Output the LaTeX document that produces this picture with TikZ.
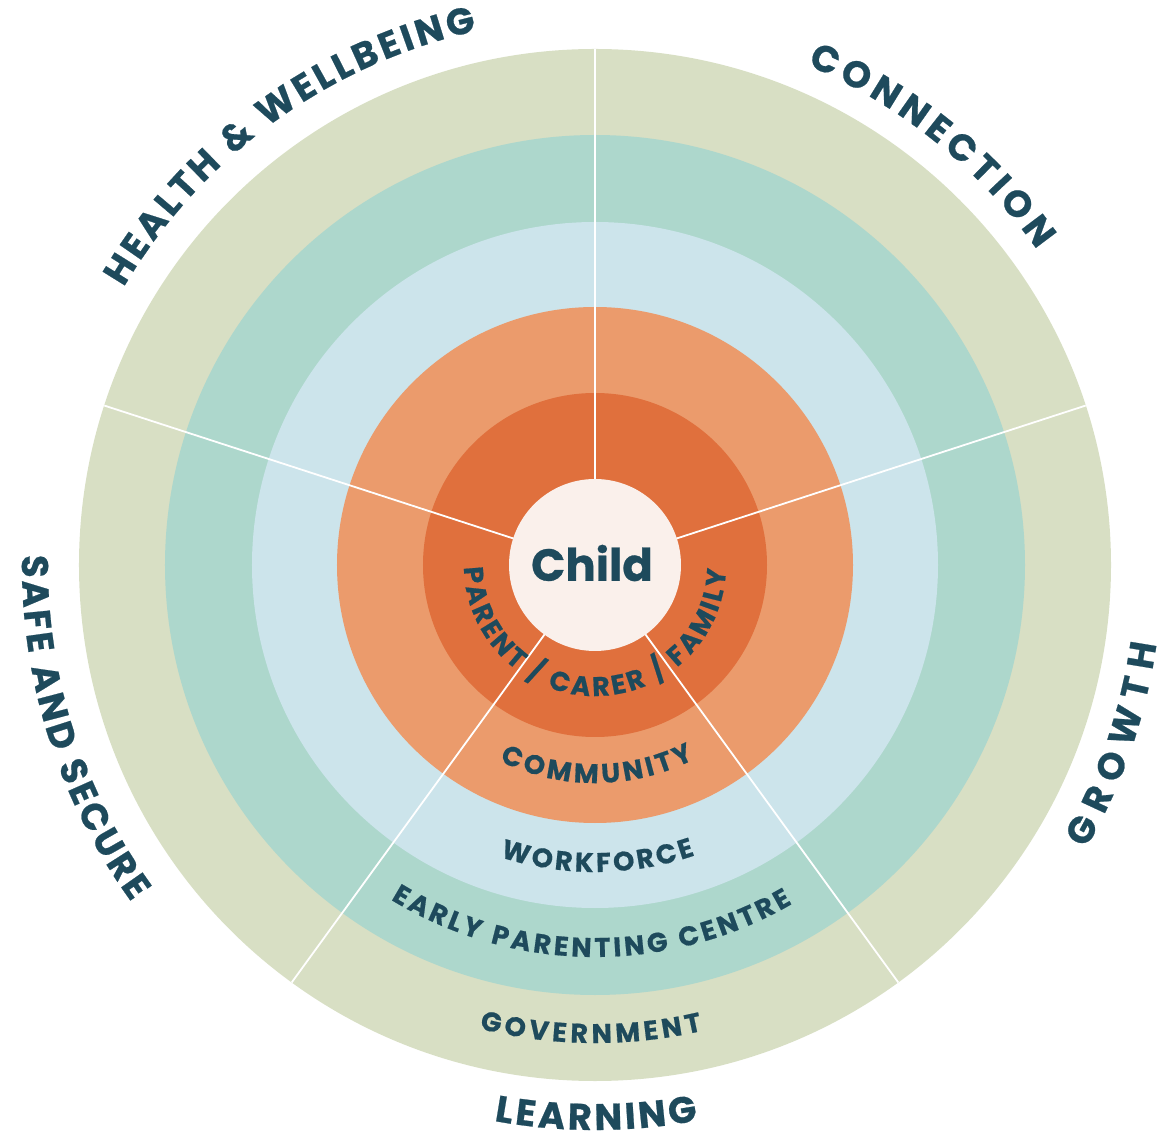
\documentclass[tikz,border=0pt]{standalone}
\usepackage{fontspec}
\setmainfont{Poppins}
\newfontfamily\labelfont{Poppins}[BoldFeatures={FakeBold=0.6}]
\usepackage{xcolor}
\usetikzlibrary{decorations.text}

\definecolor{ink}{HTML}{1E4A5C}
\definecolor{govgreen}{HTML}{D8DFC4}
\definecolor{eplteal}{HTML}{ADD7CC}
\definecolor{workblue}{HTML}{CCE4EB}
\definecolor{commorange}{HTML}{EB9B6C}
\definecolor{famorange}{HTML}{E0703D}
\definecolor{childwhite}{HTML}{FAF0EB}

\begin{document}
\begin{tikzpicture}[spoke/.style={draw=white, line width=1.8pt},
  inner label/.style={decorate, decoration={text along path, text align=fit to path,
    text={|\fontsize{27}{27}\labelfont\bfseries\color{ink}|#1}}},
  outer label/.style={decorate, decoration={text along path, text align=fit to path,
    text={|\fontsize{37}{37}\labelfont\bfseries\color{ink}|#1}}}]
\useasboundingbox (-595pt,-574pt) rectangle (571pt,565pt);
\coordinate (c) at (0,0);

% rings, outside in
\fill[govgreen] (c) circle (516pt);
\fill[eplteal] (c) circle (430pt);
\fill[workblue] (c) circle (343pt);
\fill[commorange] (c) circle (258pt);
\fill[famorange] (c) circle (172pt);

% five sectors
\foreach \a in {18,90,162,234,306}
  \draw[spoke] (\a:80pt) -- (\a:516pt);

\fill[childwhite] (c) circle (86pt);
\node[font=\fontsize{45}{45}\labelfont\bfseries, text=ink] (child) at (-3pt,2pt) {Child};

% ring labels
\path[inner label={PARENT / CARER / FAMILY}] (181:131pt) arc[start angle=181, end angle=358, radius=131pt];
\path[inner label={COMMUNITY}] (244:218pt) arc[start angle=244, end angle=297, radius=218pt];
\path[inner label={WORKFORCE}] (252:307pt) arc[start angle=252, end angle=289, radius=307pt];
\path[inner label={EARLY PARENTING CENTRE}] (238.6:392pt) arc[start angle=238.6, end angle=300.2, radius=392pt];
\path[inner label={GOVERNMENT}] (256:478pt) arc[start angle=256, end angle=283, radius=478pt];

% outcome labels
\path[outer label={HEALTH {\&} WELLBEING}] (149.5:547pt) arc[start angle=149.5, end angle=102.5, radius=547pt];
\path[outer label={CONNECTION}] (67:543pt) arc[start angle=67, end angle=35.5, radius=543pt];
\path[outer label={GROWTH}] (330:567pt) arc[start angle=330, end angle=352, radius=567pt];
\path[outer label={LEARNING}] (259.7:565pt) arc[start angle=259.7, end angle=280.5, radius=565pt];
\path[outer label={SAFE AND SECURE}] (179:573pt) arc[start angle=179, end angle=216, radius=573pt];
\end{tikzpicture}
\end{document}
